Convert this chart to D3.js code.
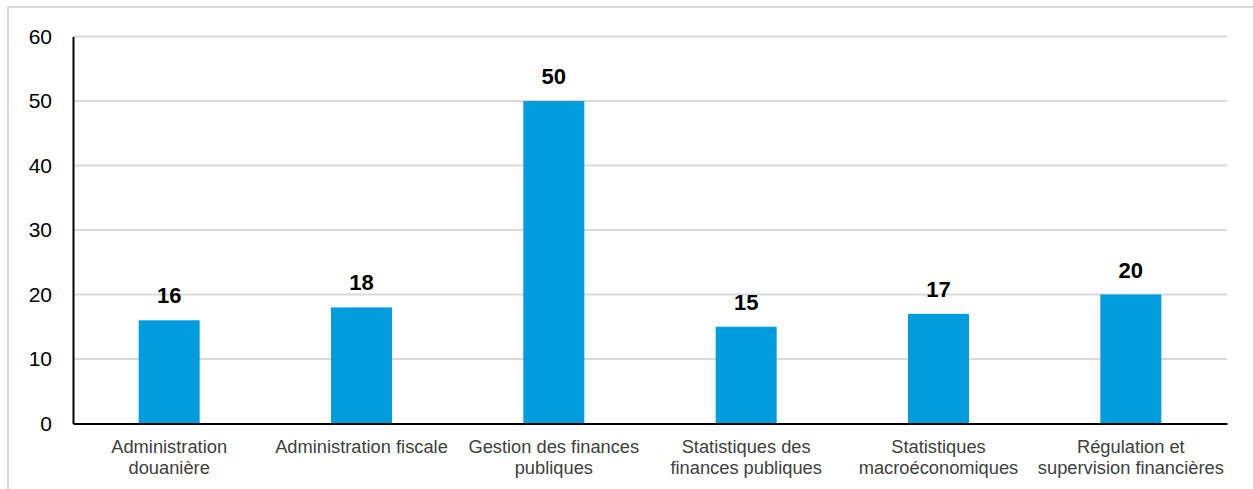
<!DOCTYPE html>
<html><head><meta charset="utf-8">
<script src="https://cdn.jsdelivr.net/npm/d3@7"></script>
<style>body{margin:0;background:#fff}svg{display:block}</style>
</head><body>
<svg id="c" width="1253" height="489"></svg>
<script>
const categories = ["Administration\ndouanière","Administration fiscale","Gestion des finances\npubliques","Statistiques des\nfinances publiques","Statistiques\nmacroéconomiques","Régulation et\nsupervision financières"];
const values = [16,18,50,15,17,20];
const yTicks = [0,10,20,30,40,50,60];

const svg = d3.select("#c");
const W = 1253, H = 489;
const m = {left:73, right:W-1227, top:36.5, bottom:H-423.5};
const font = "'Liberation Sans', Arial, sans-serif";

svg.append("rect").attr("x",8).attr("y",7).attr("width",1300).attr("height",600)
  .attr("fill","none").attr("stroke","#d9d9d9").attr("stroke-width",2);

const x = d3.scaleBand().domain(categories).range([m.left, W-m.right]).paddingInner(0.683).paddingOuter(0.3415);
const y = d3.scaleLinear().domain([0,60]).range([H-m.bottom, m.top]);

// gridlines
svg.append("g").selectAll("line").data(yTicks.filter(d=>d>0)).join("line")
  .attr("x1",m.left).attr("x2",W-m.right)
  .attr("y1",d=>y(d)).attr("y2",d=>y(d))
  .attr("stroke","#d9d9d9").attr("stroke-width",2);

// y axis
const ya = svg.append("g").attr("transform",`translate(${m.left},0)`)
  .call(d3.axisLeft(y).tickValues(yTicks).tickSize(0).tickPadding(21));
ya.select(".domain").attr("stroke","#000").attr("stroke-width",2);
ya.selectAll("text").attr("font-family",font).attr("font-size",21).attr("fill","#000");

// bars
svg.append("g").selectAll("rect").data(values).join("rect")
  .attr("x",(d,i)=>x(categories[i])).attr("width",x.bandwidth())
  .attr("y",d=>y(d)).attr("height",d=>y(0)-y(d))
  .attr("fill","#009cde");

// value labels
svg.append("g").selectAll("text").data(values).join("text")
  .attr("x",(d,i)=>x(categories[i])+x.bandwidth()/2)
  .attr("y",d=>y(d)-17)
  .attr("text-anchor","middle").attr("font-family",font).attr("font-weight","bold")
  .attr("font-size",22).attr("fill","#000").text(d=>d);

// x axis
const xa = svg.append("g").attr("transform",`translate(0,${y(0)})`)
  .call(d3.axisBottom(x).tickSize(0).tickFormat(""));
xa.select(".domain").attr("stroke","#000").attr("stroke-width",2);

// category labels
const cl = svg.append("g").selectAll("text").data(categories).join("text")
  .attr("x",d=>x(d)+x.bandwidth()/2).attr("y",y(0)+29)
  .attr("text-anchor","middle").attr("font-family",font).attr("font-size",18.3).attr("fill","#404040");
cl.each(function(d){
  const t = d3.select(this);
  d.split("\n").forEach((line,i)=>{
    t.append("tspan").attr("x",x(d)+x.bandwidth()/2).attr("dy", i===0?0:21).text(line);
  });
});
</script>
</body></html>
